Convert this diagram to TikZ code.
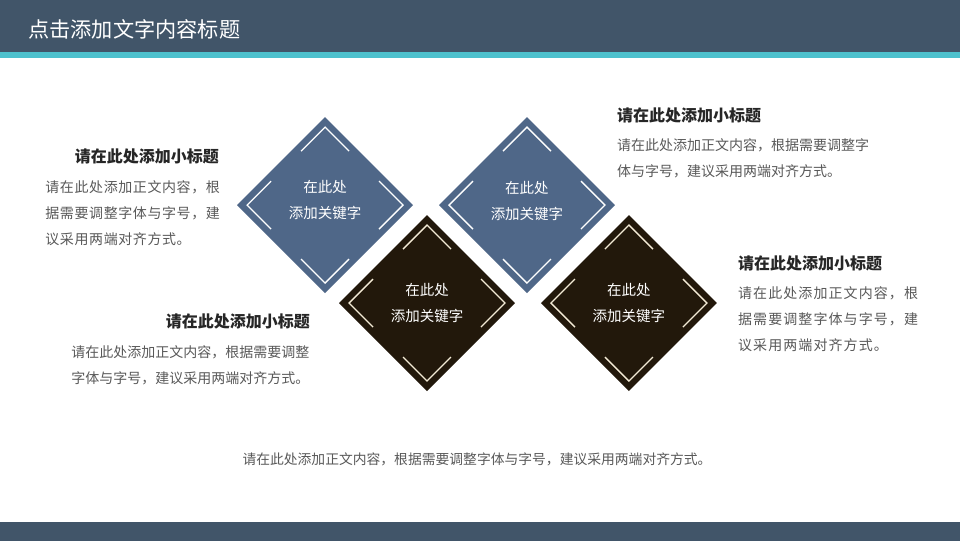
\documentclass[tikz,border=0pt]{standalone}
\usepackage{fontspec}
\setmainfont{Noto Sans CJK SC}

\definecolor{headblue}{HTML}{415569}
\definecolor{stripe}{HTML}{4EC1CD}
\definecolor{keyblue}{HTML}{4F6788}
\definecolor{keydark}{HTML}{22180B}
\definecolor{keyline}{HTML}{F4EBD6}
\definecolor{titlegray}{HTML}{262626}
\definecolor{bodygray}{HTML}{595959}

\tikzset{
  corner/.style={line width=1.3pt},
  keytext/.style={white, align=center, inner sep=0pt, font=\fontsize{14.5}{26}\selectfont},
  subtitle/.style={titlegray, inner sep=0pt, font=\fontsize{16}{20}\selectfont\bfseries},
  bodytext/.style={bodygray, align=left, inner sep=0pt, font=\fontsize{14}{26}\selectfont},
  spread/.style={font={\fontsize{14}{26}\selectfont\addfontfeature{LetterSpace=#1}}},
}

\begin{document}
\begin{tikzpicture}[x=1pt,y=-1pt]
\draw[fill=white,white](0,0) rectangle (960,540);

\draw[fill=headblue,headblue](0,0) rectangle (960,52);
\draw[fill=stripe,stripe](0,52) rectangle (960,57);
\draw[fill=headblue,headblue](0,522) rectangle (960,540);
\node[white, anchor=west, inner sep=0pt, font=\fontsize{21.2}{24}\selectfont] (head) at (28,29) {点击添加文字内容标题};

% blue keys
\begin{scope}[shift={(325,205)}]
\fill[keyblue] (0,-88) -- (88,0) -- (0,88) -- (-88,0) -- cycle;
\foreach \a in {0,90,180,270}
  \draw[corner,white,rotate=\a] (-24,-54) -- (0,-78) -- (24,-54);
\node[keytext] (key1) at (0,-5) {在此处\\添加关键字};
\end{scope}

\begin{scope}[shift={(527,205)}]
\fill[keyblue] (0,-88) -- (88,0) -- (0,88) -- (-88,0) -- cycle;
\foreach \a in {0,90,180,270}
  \draw[corner,white,rotate=\a] (-24,-54) -- (0,-78) -- (24,-54);
\node[keytext] (key2) at (0,-4) {在此处\\添加关键字};
\end{scope}

% dark keys
\begin{scope}[shift={(427,303)}]
\fill[keydark] (0,-88) -- (88,0) -- (0,88) -- (-88,0) -- cycle;
\foreach \a in {0,90,180,270}
  \draw[corner,keyline,rotate=\a] (-24,-54) -- (0,-78) -- (24,-54);
\node[keytext] (key3) at (0,0) {在此处\\添加关键字};
\end{scope}

\begin{scope}[shift={(629,303)}]
\fill[keydark] (0,-88) -- (88,0) -- (0,88) -- (-88,0) -- cycle;
\foreach \a in {0,90,180,270}
  \draw[corner,keyline,rotate=\a] (-24,-54) -- (0,-78) -- (24,-54);
\node[keytext] (key4) at (0,0) {在此处\\添加关键字};
\end{scope}

\node[subtitle, anchor=east] (sub1) at (219,156) {请在此处添加小标题};
\node[bodytext, spread=4.3, anchor=north west] (body1) at (45,180) {请在此处添加正文内容，根\\据需要调整字体与字号，建\\议采用两端对齐方式。};

\node[subtitle, anchor=west] (sub2) at (617,115) {请在此处添加小标题};
\node[bodytext, anchor=north west] (body2) at (617,138) {请在此处添加正文内容，根据需要调整字\\体与字号，建议采用两端对齐方式。};

\node[subtitle, anchor=east] (sub3) at (310,321) {请在此处添加小标题};
\node[bodytext, anchor=north west] (body3) at (71,345) {请在此处添加正文内容，根据需要调整\\字体与字号，建议采用两端对齐方式。};

\node[subtitle, anchor=west] (sub4) at (738,263) {请在此处添加小标题};
\node[bodytext, spread=7.8, anchor=north west] (body4) at (738,286) {请在此处添加正文内容，根\\据需要调整字体与字号，建\\议采用两端对齐方式。};

\node[bodygray, inner sep=0pt, font=\fontsize{13.8}{16}\selectfont] (note) at (477,459) {请在此处添加正文内容，根据需要调整字体与字号，建议采用两端对齐方式。};
\end{tikzpicture}
\end{document}
